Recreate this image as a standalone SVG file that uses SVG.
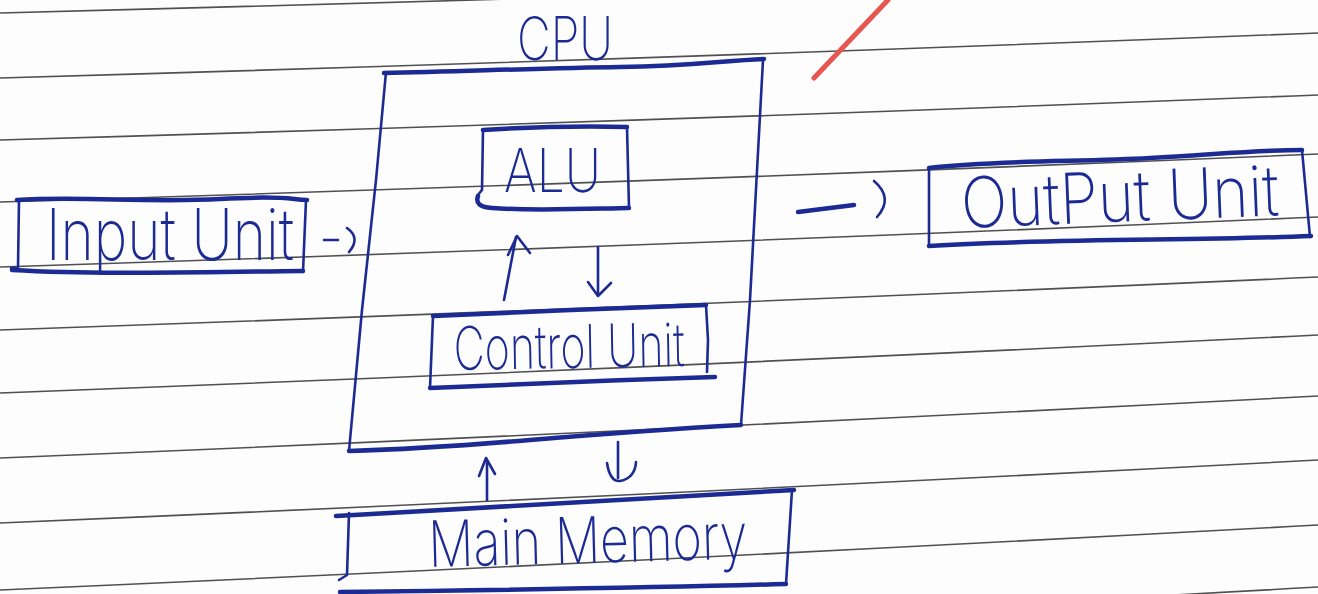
<svg xmlns="http://www.w3.org/2000/svg" width="1318" height="594" viewBox="0 0 1318 594">
<style>
.rule{fill:none;stroke:#505050;stroke-width:1.6}
.ink{fill:none;stroke:#1c2a94;stroke-width:2.6;stroke-linecap:round;stroke-linejoin:round}
.thick{stroke-width:4.5}
.lbl{font-family:Inter,Lato,"Liberation Sans",sans-serif;font-weight:200;fill:#1c2a94}
.red{fill:none;stroke:#e8574f;stroke-width:5;stroke-linecap:round}
</style>
<rect width="1318" height="594" fill="#fdfdfd"/>
<g id="ruled-lines">
<path class="rule" d="M0,13 Q659,-4 1318,-27"/>
<path class="rule" d="M0,78 Q659,59 1318,33"/>
<path class="rule" d="M0,140 Q659,121 1318,95"/>
<path class="rule" d="M0,202 Q659,182 1318,154"/>
<path class="rule" d="M0,267 Q659,246 1318,217"/>
<path class="rule" d="M0,330 Q659,307 1318,277"/>
<path class="rule" d="M0,393 Q659,368 1318,335"/>
<path class="rule" d="M0,458 Q659,431 1318,396"/>
<path class="rule" d="M0,523 Q659,495 1318,460"/>
<path class="rule" d="M0,590 Q659,561 1318,525"/>
<path class="rule" d="M0,655 Q659,624 1318,587"/>
</g>
<g id="red-mark"><path class="red" d="M888,0 L814,78"/></g>
<g id="cpu">
<path class="ink thick" d="M384,73 C470,71 550,68 620,67 S720,61 764,59"/>
<path class="ink" d="M763,60 L750,300 L741,425"/>
<path class="ink thick" d="M349,451 C420,449 470,445 530,440 S650,430 741,425"/>
<path class="ink" d="M386,72 L376,180 L362,310 L349,451"/>
<text class="lbl" x="517" y="60" font-size="60" textLength="96" lengthAdjust="spacingAndGlyphs">CPU</text>
</g>
<g id="alu">
<path class="ink thick" d="M483,130 C530,127 580,126 627,127"/>
<path class="ink" d="M627,127 L629,208"/>
<path class="ink" d="M483,130 L482,190 L477,196"/>
<path class="ink thick" d="M478,196 Q474,207 492,208 C530,211 580,209 629,208"/>
<text class="lbl" x="504" y="192" font-size="60" textLength="97" lengthAdjust="spacingAndGlyphs">ALU</text>
</g>
<g id="control-unit">
<path class="ink thick" d="M433,316 C520,312 620,308 706,305"/>
<path class="ink" d="M433,316 L430,388"/>
<path class="ink" d="M706,305 L708,340 L707,372"/>
<path class="ink thick" d="M430,388 C520,384 620,380 715,377"/>
<text class="lbl" x="454" y="370" font-size="60" textLength="231" lengthAdjust="spacingAndGlyphs" transform="rotate(-1 454 370)">Control Unit</text>
</g>
<g id="input-unit">
<path class="ink thick" d="M17,200 C80,196 150,203 220,199 S290,200 307,200"/>
<path class="ink" d="M19,200 L18,268 L11,268"/>
<path class="ink" d="M306,200 L303,272"/>
<path class="ink thick" d="M12,270 C100,275 200,272 303,271"/>
<text class="lbl" x="46" y="260" font-size="72" textLength="248" lengthAdjust="spacingAndGlyphs">Input Unit</text>
</g>
<g id="output-unit">
<path class="ink thick" d="M929,168 C1000,160 1080,162 1150,158 S1260,150 1302,150"/>
<path class="ink" d="M929,168 L929,246"/>
<path class="ink" d="M1302,150 L1310,237"/>
<path class="ink thick" d="M929,246 C1050,238 1200,241 1311,236"/>
<text class="lbl" x="962" y="228" font-size="70" textLength="318" lengthAdjust="spacingAndGlyphs" transform="rotate(-2.3 962 228)">OutPut    Unit</text>
</g>
<g id="main-memory">
<path class="ink thick" d="M336,516 C450,510 600,500 794,490"/>
<path class="ink" d="M349,513 L347,575 L339,580"/>
<path class="ink" d="M792,490 L786,584"/>
<path class="ink thick" d="M340,592 C500,590 650,588 786,584"/>
<text class="lbl" x="429" y="567" font-size="64" textLength="319" lengthAdjust="spacingAndGlyphs" transform="rotate(-1.5 429 567)">Main  Memory</text>
</g>
<g id="connectors">
<path class="ink" d="M324,240 L338,240"/>
<path class="ink" d="M347,228 Q361,238 349,252"/>
<path class="ink thick" d="M798,212 L854,205"/>
<path class="ink" d="M874,181 Q894,198 877,217"/>
<path class="ink" d="M504,300 L516,237"/>
<path class="ink" d="M508,255 L517,236 L530,253"/>
<path class="ink" d="M598,247 L598,295"/>
<path class="ink" d="M588,282 L598,296 L611,283"/>
<path class="ink" d="M487,500 L487,462"/>
<path class="ink" d="M479,476 L486,458 L495,474"/>
<path class="ink" d="M618,442 L618,478"/>
<path class="ink" d="M607,463 Q610,482 620,481 Q635,478 636,462"/>
</g>
</svg>
